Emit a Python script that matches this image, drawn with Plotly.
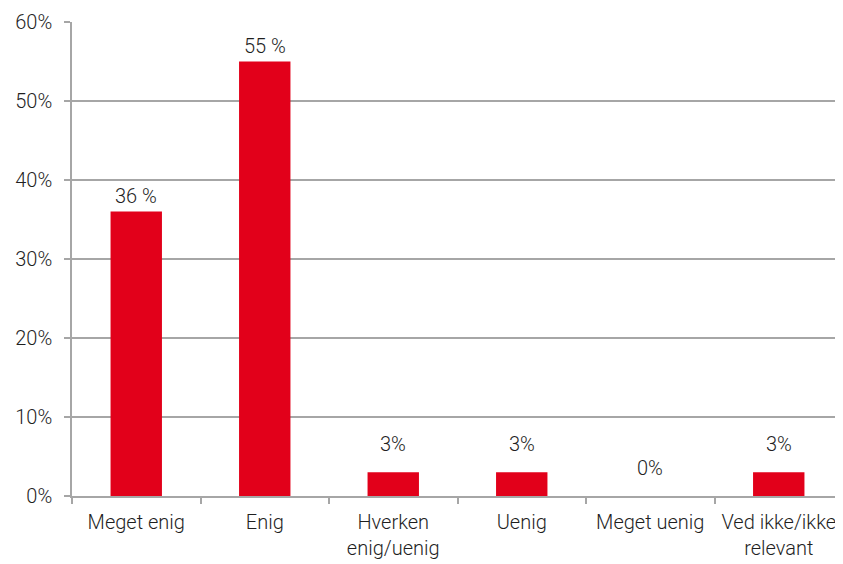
import plotly.graph_objects as go

# svar-kategorier og andele (i %)
kategorier = ["Meget enig", "Enig", "Hverken<br>enig/uenig", "Uenig",
              "Meget uenig", "Ved ikke/ikke<br>relevant"]
andele = [36, 55, 3, 3, 0, 3]
etiketter = ["36 %", "55 %", "3%", "3%", "0%", "3%"]
y_ticks = [0, 10, 20, 30, 40, 50, 60]
y_tick_tekst = ["0%", "10%", "20%", "30%", "40%", "50%", "60%"]

rod = "#E2001A"
graa = "#A6A6A6"
tekst_farve = "#1F1F1F"
font = "Roboto"

soejler = go.Bar(x=kategorier,
                 y=andele,
                 marker=dict(color=rod, line=dict(width=0)))

# dataetiketter over søjlerne (små søjler får lidt mere luft, som i Excel)
etiket_annot = [dict(x=k, y=v, text=t, showarrow=False, yanchor="bottom",
                     yshift=2 if v >= 10 else 14,
                     font=dict(size=20, color=tekst_farve, family=font, weight=300))
                for k, v, t in zip(kategorier, andele, etiketter)]

# siden har 8px margin i browseren, derfor er margin l og t trukket 8 fra
layout = dict(width=843, height=564,
              margin=dict(l=64, r=8, t=14, b=76),
              paper_bgcolor="white", plot_bgcolor="white",
              showlegend=False,
              bargap=0.6,
              annotations=etiket_annot,
              font=dict(family=font, size=20, color=tekst_farve, weight=300),
              xaxis=dict(type="category", tickson="boundaries", ticks="outside",
                         ticklen=6, tickwidth=1.5, tickcolor=graa,
                         ticklabelstandoff=7,
                         showline=True, linecolor=graa, linewidth=1.5,
                         showgrid=False, automargin=False,
                         tickfont=dict(size=20, weight=300)),
              yaxis=dict(range=[0, 60], tickvals=y_ticks, ticktext=y_tick_tekst,
                         ticks="outside", ticklen=6, tickwidth=1.5, tickcolor=graa,
                         ticklabelstandoff=8,
                         showline=True, linecolor=graa, linewidth=1.5,
                         showgrid=True, gridcolor=graa, gridwidth=1.5,
                         zeroline=False, automargin=False,
                         tickfont=dict(size=20, weight=300)))

fig = go.Figure(data=[soejler], layout=layout)
fig.write_html("out.html")
